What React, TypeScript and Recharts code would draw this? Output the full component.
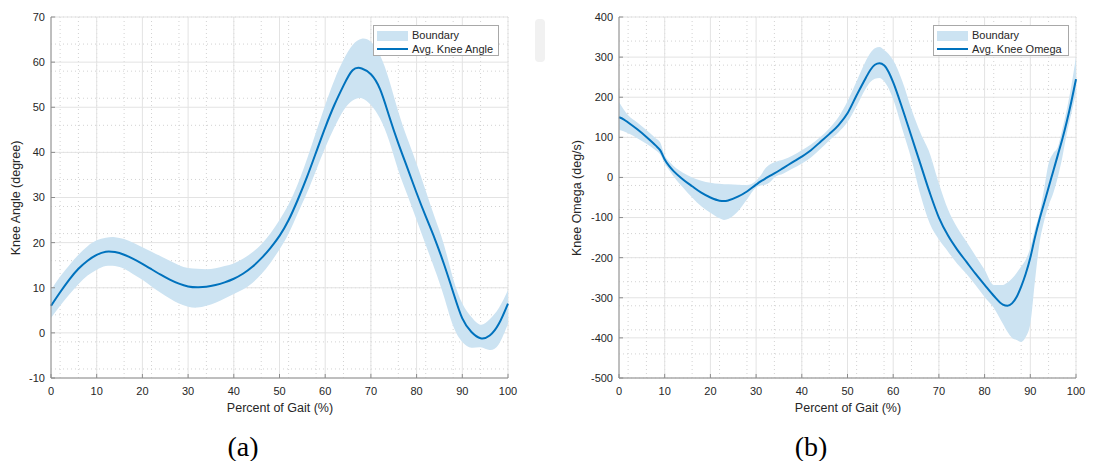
import React from 'react';
import { ComposedChart, Area, Line, XAxis, YAxis, CartesianGrid } from 'recharts';

// Percent of gait cycle shared by both panels
const gaitTicks = [0, 10, 20, 30, 40, 50, 60, 70, 80, 90, 100];
const gaitMinor = Array.from({ length: 51 }, (_, i) => i * 2);

// Knee angle (degree)
const angleX = [
  0, 2, 4, 6, 8, 10, 12, 14, 16, 18, 20, 22, 24, 26, 28, 30, 32, 34, 36, 38, 40, 42, 44, 46, 48, 50,
  52, 54, 56, 58, 60, 62, 64, 66, 68, 70, 72, 74, 76, 78, 80, 82, 84, 86, 88, 90, 92, 94, 96, 98, 100,
];
const angleMean = [
  6, 9, 11.8, 14.2, 16, 17.3, 18, 17.9, 17.3, 16.4, 15.3, 14.1, 12.9, 11.8, 10.9, 10.3, 10.1, 10.2, 10.6, 11.2,
  12, 13.1, 14.6, 16.5, 18.8, 21.5, 25, 29.5, 34.5, 40, 45.5, 50.5, 54.8, 58.2, 58.6, 57.3, 54, 48, 42, 36.5,
  31, 25.8, 20.8, 15.2, 9, 3.2, 0.2, -1.2, -0.6, 2, 6.5,
];
const angleUpper = [
  9.5, 12.5, 15, 17.3, 19.2, 20.5, 21.1, 21.2, 20.8, 20, 19, 18, 17, 16, 15, 14.4, 14.2, 14.1, 14.3, 14.8,
  15.4, 16.4, 17.8, 19.6, 22, 25, 28.5, 33, 38.5, 44.5, 50.5, 56, 60.5, 63.8, 65.2, 64.5, 61.5, 56, 49, 43,
  37.5, 31.5, 25.5, 19.5, 12, 6.5, 3.5, 1.8, 3, 5.5, 9.5,
];
const angleLower = [
  3.3, 6, 8.5, 10.8, 12.7, 14, 14.8, 14.8, 14.2, 13, 11.8, 10.3, 8.9, 7.6, 6.5, 5.8, 5.6, 6, 6.7, 7.6,
  8.6, 9.6, 11, 13, 15.5, 18.5, 22, 26.5, 31, 36, 41, 45.5, 49.3, 51.5, 52, 50.5, 47.5, 42.5, 36, 30.5,
  25, 19.5, 14, 8, 1.5, -2, -3.3, -3.2, -3.8, -2.5, 2,
];
const angleTicks = [-10, 0, 10, 20, 30, 40, 50, 60, 70];
const angleMinor = Array.from({ length: 41 }, (_, i) => -10 + i * 2);

// Knee angular velocity (deg/s)
const omegaX = [
  0, 1, 2, 4, 6, 8, 9, 10, 11, 12, 14, 16, 18, 20, 22, 23, 24, 26, 28, 30, 31, 32, 33, 34, 36, 38, 40, 42,
  44, 46, 48, 50, 52, 54, 55, 56, 57, 58, 59, 60, 62, 64, 66, 68, 70, 72, 74, 76, 78, 80, 82, 84, 85, 86,
  87, 88, 89, 90, 91, 92, 93, 94, 95, 96, 97, 98, 99, 100,
];
const omegaMean = [
  150, 145, 137, 120, 101, 80, 68, 45, 28, 15, -5, -22, -38, -50, -58, -59, -57, -48, -35, -18, -10, -3, 4,
  10, 24, 38, 52, 68, 88, 108, 130, 160, 205, 248, 268, 281, 285, 280, 263, 237, 172, 102, 32, -38, -100,
  -145, -180, -210, -240, -268, -295, -317, -320, -314, -298, -272, -240, -200, -150, -105, -65, -25, 15,
  55, 95, 140, 190, 245,
];
const omegaUpper = [
  188, 170, 155, 137, 118, 98, 88, 55, 40, 28, 12, 0, -8, -13, -16, -17, -17, -18, -19, -8, 5, 22, 32, 38,
  45, 55, 68, 82, 100, 122, 150, 190, 240, 290, 310, 322, 325, 318, 308, 292, 240, 170, 110, 60, -15, -80,
  -125, -160, -195, -230, -268, -268, -262, -252, -238, -222, -205, -175, -130, -90, -30, 35, 60, 75, 120,
  170, 230, 300,
];
const omegaLower = [
  118, 115, 110, 98, 84, 68, 58, 35, 18, 2, -25, -50, -72, -88, -102, -106, -103, -85, -55, -25, -20, -18,
  -12, 0, 10, 22, 35, 50, 70, 92, 112, 138, 178, 222, 238, 246, 248, 240, 222, 195, 120, 45, -45, -115,
  -155, -185, -215, -240, -268, -298, -325, -365, -385, -400, -405, -410, -398, -365, -260, -165, -110,
  -70, -40, 0, 50, 110, 160, 210,
];
const omegaTicks = [-500, -400, -300, -200, -100, 0, 100, 200, 300, 400];
const omegaMinor = Array.from({ length: 46 }, (_, i) => -500 + i * 20);

const LINE_BLUE = '#0072BD';
const BAND_BLUE = '#cce3f2';
const TEXT = '#262626';

type CurveKind = 'natural' | 'monotone';

const toRows = (xs: number[], mean: number[], lo: number[], hi: number[]) =>
  xs.map((x, i) => ({ x, mean: mean[i], band: [lo[i], hi[i]] }));

type PanelProps = {
  left: number;
  rows: { x: number; mean: number; band: number[] }[];
  yDomain: [number, number];
  yTicks: number[];
  yMinor: number[];
  yTitle: string;
  yTitleX: number;
  seriesName: string;
  legendLeft: number;
  legendWidth: number;
  caption: string;
  curve: CurveKind;
};

const LegendBox = ({ left, width, name }: { left: number; width: number; name: string }) => (
  <div
    style={{
      position: 'absolute',
      left,
      top: 25,
      width,
      height: 31,
      boxSizing: 'border-box',
      border: '1px solid #a8a8a8',
      background: '#fff',
      fontSize: 11,
      color: TEXT,
    }}
  >
    <div style={{ position: 'absolute', left: 3, top: 5, width: 31, height: 10, background: BAND_BLUE }} />
    <div style={{ position: 'absolute', left: 38, top: 3, lineHeight: '13px' }}>Boundary</div>
    <div style={{ position: 'absolute', left: 3, top: 22, width: 31, height: 2, background: LINE_BLUE }} />
    <div style={{ position: 'absolute', left: 38, top: 17, lineHeight: '13px' }}>{name}</div>
  </div>
);

const Panel = (p: PanelProps) => (
  <div style={{ position: 'absolute', left: p.left, top: 0, width: 525, height: 461 }}>
    <ComposedChart width={520} height={400} data={p.rows} margin={{ top: 17, right: 12, bottom: 0, left: 0 }}>
      <CartesianGrid
        stroke="#d2d2d2"
        strokeDasharray="1 3"
        horizontalValues={p.yMinor}
        verticalValues={gaitMinor}
      />
      <CartesianGrid stroke="#e3e3e3" horizontalValues={p.yTicks} verticalValues={gaitTicks} />
      <Area
        type={p.curve}
        dataKey="band"
        stroke="none"
        fill={BAND_BLUE}
        fillOpacity={1}
        isAnimationActive={false}
      />
      <Line
        type={p.curve}
        dataKey="mean"
        stroke={LINE_BLUE}
        strokeWidth={2}
        dot={false}
        isAnimationActive={false}
      />
      <XAxis
        type="number"
        dataKey="x"
        domain={[0, 100]}
        ticks={gaitTicks}
        height={22}
        tickSize={-4}
        tickMargin={13}
        stroke="#8c8c8c"
        tick={{ fill: TEXT, fontSize: 11 }}
      />
      <YAxis
        type="number"
        domain={p.yDomain}
        ticks={p.yTicks}
        width={51}
        tickSize={-4}
        tickMargin={10}
        stroke="#8c8c8c"
        tick={{ fill: TEXT, fontSize: 11 }}
      />
    </ComposedChart>
    <LegendBox left={p.legendLeft} width={p.legendWidth} name={p.seriesName} />
    <div
      style={{
        position: 'absolute',
        left: p.yTitleX,
        top: 198,
        transform: 'translate(-50%, -50%) rotate(-90deg)',
        whiteSpace: 'nowrap',
        fontSize: 12.5,
        color: TEXT,
      }}
    >
      {p.yTitle}
    </div>
    <div
      style={{
        position: 'absolute',
        left: 280,
        top: 408,
        transform: 'translate(-50%, -50%)',
        whiteSpace: 'nowrap',
        fontSize: 12.5,
        color: TEXT,
      }}
    >
      Percent of Gait (%)
    </div>
    <div
      style={{
        position: 'absolute',
        left: 243,
        top: 447,
        transform: 'translate(-50%, -50%)',
        whiteSpace: 'nowrap',
        fontSize: 28,
        fontFamily: '"Liberation Serif", serif',
        color: '#000',
      }}
    >
      {p.caption}
    </div>
  </div>
);

export default function App() {
  return (
    <div
      style={{
        position: 'absolute',
        left: 0,
        top: 0,
        width: 1093,
        height: 461,
        background: '#fff',
        overflow: 'hidden',
        fontFamily: '"Liberation Sans", Arial, sans-serif',
      }}
    >
      <Panel
        left={0}
        rows={toRows(angleX, angleMean, angleLower, angleUpper)}
        yDomain={[-10, 70]}
        yTicks={angleTicks}
        yMinor={angleMinor}
        yTitle="Knee Angle (degree)"
        yTitleX={16}
        seriesName="Avg. Knee Angle"
        legendLeft={373}
        legendWidth={126}
        caption="(a)"
        curve="natural"
      />
      <Panel
        left={568}
        rows={toRows(omegaX, omegaMean, omegaLower, omegaUpper)}
        yDomain={[-500, 400]}
        yTicks={omegaTicks}
        yMinor={omegaMinor}
        yTitle="Knee Omega (deg/s)"
        yTitleX={9}
        seriesName="Avg. Knee Omega"
        legendLeft={365}
        legendWidth={136}
        caption="(b)"
        curve="monotone"
      />
      {/* faint toolbar tab beside the first axes */}
      <div
        style={{
          position: 'absolute',
          left: 535,
          top: 19,
          width: 10,
          height: 43,
          borderRadius: 4,
          background: '#f1f1f1',
        }}
      />
    </div>
  );
}
